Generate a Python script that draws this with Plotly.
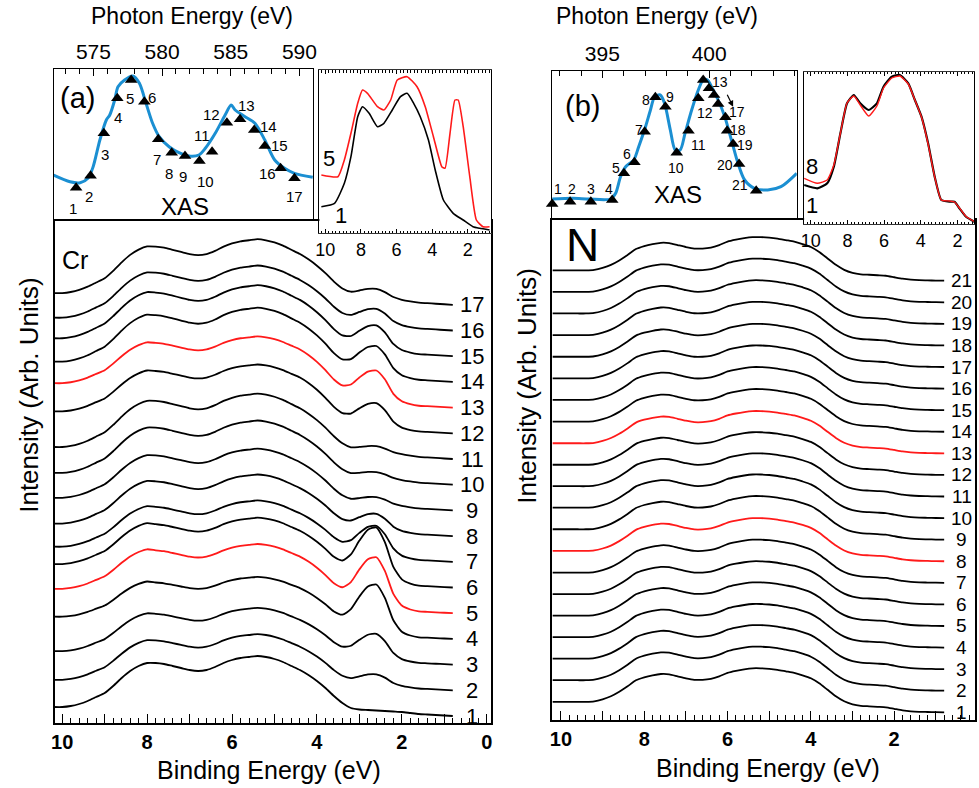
import numpy as np
import plotly.graph_objects as go

W, H = 979, 788
FONT = "Liberation Sans, Arial, Helvetica, sans-serif"

# ------------------------------------------------------------------ DATA
# binding-energy grid of the valence-band spectra (eV)
be_grid = [10.2, 10.0, 9.8, 9.6, 9.4, 9.2, 9.0, 8.8, 8.6, 8.4, 8.2, 8.0, 7.8, 7.6, 7.4, 7.2,
           7.0, 6.8, 6.6, 6.4, 6.2, 6.0, 5.8, 5.6, 5.4, 5.2, 5.0, 4.8, 4.6, 4.4, 4.2, 4.0,
           3.8, 3.6, 3.4, 3.2, 3.0, 2.8, 2.6, 2.4, 2.2, 2.0, 1.8, 1.6, 1.4, 1.2, 1.0, 0.8]

# Cr L-edge resonant spectra: valence band, Cr 3d resonance and background components
cr_vb_profile = [9, 9, 10, 12, 15, 19, 23, 30, 38, 45, 50, 53, 53, 52, 50, 48,
                 46, 45, 46, 49, 53, 56, 58, 59, 60, 59, 57, 54, 50, 46, 41, 35,
                 28, 20, 13, 8, 6.5, 6, 5.5, 5, 4.5, 4, 3, 2, 1.5, 1, 0.5, 0]
cr_3d_profile = [0.22, 0.22, 0.22, 0.22, 0.22, 0.22, 0.22, 0.22, 0.22, 0.22, 0.22, 0.22,
                 0.2, 0.2, 0.2, 0.2, 0.2, 0.2, 0.2, 0.2, 0.2, 0.2, 0.2, 0.2, 0.2, 0.2, 0.2,
                 0.2, 0.2, 0.2, 0.2, 0.2, 0.2, 0.2, 0.26, 0.46, 0.74, 0.95, 1.0, 0.74, 0.3,
                 0.08, 0.02, 0, 0, 0, 0, 0]
cr_bg_profile = [1, 1, 1, 1, 1, 1, 1, 1, 1, 1, 1, 1, 1, 1, 1, 1, 1, 1, 1, 1, 1, 1, 1, 1,
                 1, 1, 1, 1, 1, 1, 0.9, 0.75, 0.55, 0.35, 0.2, 0.1, 0.05, 0, 0, 0, 0, 0,
                 0, 0, 0, 0, 0, 0]
cr_labels = [str(i) for i in range(1, 18)]
cr_vb_scale = [1.00, 0.90, 0.86, 0.80, 0.90, 0.93, 0.92, 0.97, 0.97, 1.03, 1.05, 0.93,
               0.93, 1.07, 1.05, 1.03, 1.06]
cr_3d_amp = [0, 11, 26, 50, 51, 55, 31, 17, 8, 7, 7, 25, 32, 30, 25, 16, 10]
cr_bg_amp = [0, 0, 0, 4, 5, 3, 0, 0, 2, 1, 1, 8, 9, 4, 3, 0, 0]
cr_red = ["5", "13"]

# N K-edge resonant spectra
n_vb_profile = [10.5, 10.5, 10.5, 10.5, 10.5, 11, 13, 16, 20.5, 26, 32, 35, 37, 38.3, 38, 36,
                34, 32.5, 32.5, 33.5, 36, 39.5, 41.5, 43, 44, 44, 43.5, 42.5, 41, 39.5, 37, 34,
                29, 22.5, 16, 11, 8, 6.5, 6, 5.5, 5, 3.5, 2, 1, 0.5, 0.3, 0.1, 0]
n_labels = [str(i) for i in range(1, 22)]
n_vb_scale = [1.0, 1.0, 1.0, 0.99, 0.99, 0.98, 0.98, 0.98, 0.99, 0.99, 0.98, 0.97, 0.96,
              0.97, 0.98, 0.98, 0.98, 0.99, 0.99, 0.99, 0.99]
n_red = ["8", "13"]

# Cr L-edge XAS
cr_xas_energy = [572.10, 573.30, 574.03, 574.62, 574.98, 575.47, 575.94, 576.19, 576.55, 576.79,
                 577.27, 577.87, 578.35, 578.83, 579.31, 579.79, 580.51, 581.23, 581.95, 582.68,
                 583.15, 583.87, 584.59, 585.03, 585.32, 586.04, 586.76, 587.48, 588.20, 588.92,
                 589.64, 590.97]
cr_xas_intensity = [44, 37.3, 36.3, 41, 52.3, 79, 99, 104, 119, 132.3, 139, 143, 135.7, 115.7,
                    95.7, 82.3, 72.3, 66.3, 63, 64, 70.7, 85.7, 104, 114, 109, 102.3, 95.7, 79,
                    59, 50.7, 45.7, 41.7]
cr_mark_energy = [573.74, 574.79, 575.76, 576.74, 577.75, 578.71, 579.72, 580.70, 581.67,
                  582.72, 583.64, 584.72, 585.68, 586.71, 587.48, 588.63, 589.64]
cr_mark_intensity = [31.3, 43.3, 85.7, 120.7, 139, 117.3, 79.7, 66.3, 63, 58, 67.3, 96.3,
                     99.7, 89, 73, 50.7, 40.7]

# N K-edge XAS
n_xas_energy = [392.65, 393.61, 394.38, 395.39, 395.62, 395.85, 396.09, 396.47, 396.70, 397.02,
                397.25, 397.45, 397.71, 397.91, 398.18, 398.41, 398.64, 398.87, 399.18, 399.49,
                399.72, 399.92, 400.11, 400.42, 400.73, 401.04, 401.35, 401.66, 402.12, 402.74,
                403.36, 404.10]
n_xas_intensity = [19.3, 20, 19.3, 19.3, 25, 41.6, 51.6, 58.3, 71.6, 91.6, 108.3, 121.6, 123.3,
                   115, 88.3, 68.3, 68.3, 85, 108.3, 128.3, 138.3, 138.3, 131.6, 118.3, 101.6,
                   78.3, 55, 38.3, 30, 28.3, 31.6, 45]
n_mark_energy = [392.65, 393.49, 394.46, 395.46, 396.01, 396.50, 396.98, 397.48, 397.95, 398.48,
                 399.03, 399.49, 399.72, 399.99, 400.23, 400.42, 400.76, 400.84, 401.12, 401.40,
                 402.20]
n_mark_intensity = [14.3, 16.6, 16.6, 18.3, 45, 56, 86.6, 121, 111.6, 65.6, 87.6, 120, 138.3,
                    130, 123.3, 114.3, 101, 87.6, 74.3, 54.3, 27.6]
n_mark_text = ["1", "2", "3", "4", "5", "6", "7", "8", "9", "10", "11", "12", "13", "", "", "",
               "17", "18", "19", "20", "21"]

# off-resonance / on-resonance comparison insets
cr_inset_be_1 = [10.22, 9.48, 8.93, 8.56, 8.18, 7.91, 7.54, 7.07, 6.71, 6.24, 5.78, 5.41, 5.04,
                 4.67, 4.21, 3.83, 3.37, 2.82, 2.26, 1.71, 1.33, 0.78]
cr_inset_int_1 = [26.3, 29.7, 49.7, 76.3, 116.3, 126.3, 119.7, 106.3, 109.7, 123, 136.3, 139.7,
                  129.7, 116.3, 93, 63, 33, 19.7, 13, 6.3, 4.7, 3]
cr_inset_be_5 = [10.22, 9.29, 8.93, 8.56, 8.18, 7.91, 7.63, 7.07, 6.71, 6.33, 5.96, 5.41, 4.85,
                 4.39, 3.93, 3.46, 3.28, 3.00, 2.72, 2.54, 2.26, 1.89, 1.52, 1.15, 0.78]
cr_inset_int_5 = [58, 56.3, 73, 99.7, 129.7, 143, 139.7, 126.3, 123, 133, 153, 156.3, 146.3,
                  126.3, 96.3, 66.3, 64.7, 99.7, 133, 133, 106.3, 56.3, 13, 6.3, 6.3]
n_inset_be = [10.36, 9.64, 9.10, 8.74, 8.38, 8.02, 7.65, 7.30, 6.84, 6.39, 6.03, 5.58, 5.14,
              4.68, 4.32, 3.96, 3.60, 3.24, 2.88, 2.43, 2.16, 1.89, 1.53, 1.08]
n_inset_int_1 = [39, 35.7, 40.7, 57.3, 90.7, 120.7, 129, 120.7, 114, 120.7, 137.3, 147.3, 149,
                 140.7, 124, 107.3, 80.7, 47.3, 24, 22.3, 22.3, 15.7, 7.3, 2.3]
n_inset_int_8 = [45.7, 40.7, 44, 59, 91, 121, 128, 119, 108, 118, 136, 146, 148, 140, 124, 107,
                 80, 47, 24, 23, 22, 16, 7.5, 2.5]

# ------------------------------------------------------------------ STYLE / LAYOUT
CR_BASE, CR_STEP = 7.0, 25.7
N_BASE, N_STEP = 7.7, 21.58
BLUE = "#1b8fd2"
RED = "#ff1a1a"

# label offsets (px) of the XAS point numbers relative to their triangles
cr_lab_dx = [-2.7, -1.3, 1, 0.7, -1, 7.6, -1.7, -2.6, -1.7, 6, -10, -15, 6.7, 14, 14.4, -13.6, 0]
cr_lab_dy = [-20.6, -20.3, -21.7, -19, -19, 4, -20, -20.6, -20.7, -20.7, 16.7, 7.7, 13.3, 3.3, 0, -5, -18.4]
n_lab_dx = [5.6, 1.6, 0, -3.3, -8.3, -7.4, -6, -9.4, 4.3, -1, 10, 6.7, 16.7, 0, 0, 0, 12, 11, 11.7, -14.3, -16.6]
n_lab_dy = [14.7, 12.4, 12.4, 10.7, 5, 8.3, 1.7, -2.7, 10, -15.6, -14.3, -15, -1.7, 0, 0, 0, 4.8, 0.6, -0.6, -1, 5.7]


def px(xp):
    return xp / W


def py(yp):
    return 1 - yp / H


fig = go.Figure()

# ---- Cr main stack
vb = np.array(cr_vb_profile)
d3 = np.array(cr_3d_profile)
bgp = np.array(cr_bg_profile)
cr_ends = []
for i, lab in enumerate(cr_labels):
    off = CR_BASE + i * CR_STEP
    y = off + cr_vb_scale[i] * vb + cr_3d_amp[i] * d3 + cr_bg_amp[i] * bgp
    cr_ends.append(y[-1])
    fig.add_trace(go.Scatter(x=be_grid, y=y, mode="lines", xaxis="x", yaxis="y",
                             line=dict(color=RED if lab in cr_red else "black", width=1.8,
                                       shape="spline", smoothing=0.6),
                             showlegend=False, hoverinfo="skip"))

# ---- N main stack
nvb = np.array(n_vb_profile)
n_ends = []
for i, lab in enumerate(n_labels):
    off = N_BASE + i * N_STEP
    y = off + n_vb_scale[i] * nvb
    n_ends.append(y[-1])
    fig.add_trace(go.Scatter(x=be_grid, y=y, mode="lines", xaxis="x4", yaxis="y4",
                             line=dict(color=RED if lab in n_red else "black", width=1.8,
                                       shape="spline", smoothing=0.6),
                             showlegend=False, hoverinfo="skip"))

# ---- XAS insets
fig.add_trace(go.Scatter(x=cr_xas_energy, y=cr_xas_intensity, mode="lines", xaxis="x2", yaxis="y2",
                         line=dict(color=BLUE, width=3, shape="spline", smoothing=0.8),
                         showlegend=False, hoverinfo="skip"))
fig.add_trace(go.Scatter(x=cr_mark_energy, y=cr_mark_intensity, mode="markers", xaxis="x2", yaxis="y2",
                         marker=dict(symbol="triangle-up", size=11, color="black"),
                         cliponaxis=False, showlegend=False, hoverinfo="skip"))
fig.add_trace(go.Scatter(x=n_xas_energy, y=n_xas_intensity, mode="lines", xaxis="x5", yaxis="y5",
                         line=dict(color=BLUE, width=3, shape="spline", smoothing=0.8),
                         showlegend=False, hoverinfo="skip"))
fig.add_trace(go.Scatter(x=n_mark_energy, y=n_mark_intensity, mode="markers", xaxis="x5", yaxis="y5",
                         marker=dict(symbol="triangle-up", size=11, color="black"),
                         cliponaxis=False, showlegend=False, hoverinfo="skip"))

# ---- comparison insets
fig.add_trace(go.Scatter(x=cr_inset_be_1, y=cr_inset_int_1, mode="lines", xaxis="x3", yaxis="y3",
                         line=dict(color="black", width=1.6, shape="spline", smoothing=0.5),
                         showlegend=False, hoverinfo="skip"))
fig.add_trace(go.Scatter(x=cr_inset_be_5, y=cr_inset_int_5, mode="lines", xaxis="x3", yaxis="y3",
                         line=dict(color=RED, width=1.6, shape="spline", smoothing=0.5),
                         showlegend=False, hoverinfo="skip"))
fig.add_trace(go.Scatter(x=n_inset_be, y=n_inset_int_1, mode="lines", xaxis="x6", yaxis="y6",
                         line=dict(color="black", width=2.2, shape="spline", smoothing=0.5),
                         showlegend=False, hoverinfo="skip"))
fig.add_trace(go.Scatter(x=n_inset_be, y=n_inset_int_8, mode="lines", xaxis="x6", yaxis="y6",
                         line=dict(color=RED, width=1.4, shape="spline", smoothing=0.5),
                         showlegend=False, hoverinfo="skip"))

# ------------------------------------------------------------------ AXES
def main_x(domain, rng, anchor):
    return dict(domain=domain, range=rng, anchor=anchor, showline=True, linecolor="black",
                linewidth=1.6, mirror=True, ticks="inside", ticklen=9, tickwidth=1.3,
                tickcolor="black", tickmode="array", tickvals=[0, 1, 2, 3, 4, 5, 6, 7, 8, 9, 10],
                ticktext=["0", "", "2", "", "4", "", "6", "", "8", "", "10"],
                tickfont=dict(family=FONT, size=20, color="black", weight="bold"),
                minor=dict(tickmode="linear", tick0=0, dtick=0.2, ticks="inside", ticklen=5,
                           tickwidth=1, tickcolor="black"),
                showgrid=False, zeroline=False)


def plain_y(domain, rng, anchor, lw=1.6):
    return dict(domain=domain, range=rng, anchor=anchor, showline=True, linecolor="black",
                linewidth=lw, mirror=True, ticks="", showticklabels=False, showgrid=False,
                zeroline=False)


def xas_x(domain, rng, anchor, tick0):
    return dict(domain=domain, range=rng, anchor=anchor, side="top", showline=True,
                linecolor="black", linewidth=1.3, mirror=True, ticks="inside", ticklen=7,
                tickwidth=1, tickcolor="black", tick0=tick0, dtick=5,
                tickfont=dict(family=FONT, size=21, color="black"),
                minor=dict(tickmode="linear", tick0=tick0, dtick=1, ticks="inside", ticklen=5,
                           tickwidth=1, tickcolor="black"),
                showgrid=False, zeroline=False)


def inset_x(domain, rng, anchor):
    return dict(domain=domain, range=rng, anchor=anchor, showline=True, linecolor="#333333",
                linewidth=1, mirror="allticks", ticks="inside", ticklen=4, tickwidth=1,
                tickcolor="black", tickmode="array", tickvals=[2, 4, 6, 8, 10],
                tickfont=dict(family=FONT, size=18, color="black"),
                minor=dict(tickmode="linear", tick0=0, dtick=0.2, ticks="inside", ticklen=2.5,
                           tickwidth=1, tickcolor="black"),
                showgrid=False, zeroline=False)


layout = dict(
    width=W, height=H, margin=dict(l=0, r=0, t=0, b=0),
    paper_bgcolor="white", plot_bgcolor="white", showlegend=False,
    font=dict(family=FONT, color="black"),
    xaxis=main_x([px(51), px(491)], [10.18, -0.1], "y"),
    yaxis=plain_y([py(723), py(221)], [0, 502], "x"),
    xaxis2=xas_x([px(50), px(311.7)], [572.1, 591.0], "y2", 575),
    yaxis2=plain_y([py(219), py(69)], [0, 150], "x2", lw=1.3),
    xaxis3=inset_x([px(318), px(491)], [10.33, 0.7], "y3"),
    yaxis3=plain_y([py(233), py(70)], [0, 163], "x3", lw=1),
    xaxis4=main_x([px(552.7), 1.0], [10.21, 0.06], "y4"),
    yaxis4=plain_y([py(720), py(220)], [0, 500], "x4"),
    xaxis5=xas_x([px(552.7), px(799.3)], [392.65, 404.1], "y5", 395),
    yaxis5=plain_y([py(218.3), py(70.7)], [0, 147.6], "x5", lw=1.3),
    xaxis6=inset_x([px(806.7), px(978.3)], [10.36, 1.08], "y6"),
    yaxis6=plain_y([py(224), py(71.7)], [0, 152.3], "x6", lw=1),
)
fig.update_layout(**layout)

# ------------------------------------------------------------------ ANNOTATIONS
ann = []


def ptext(text, xp, yp, size, angle=0, **kw):
    ann.append(dict(text=text, x=px(xp), y=py(yp), xref="paper", yref="paper",
                    xanchor="center", yanchor="middle", showarrow=False, textangle=angle,
                    font=dict(family=FONT, size=size, color="black"), **kw))


# curve numbers
for lab, yv in zip(cr_labels, cr_ends):
    ann.append(dict(text=lab, x=0.34, y=yv, xref="x", yref="y", xanchor="center",
                    yanchor="middle", showarrow=False,
                    font=dict(family=FONT, size=22, color="black")))
for lab, yv in zip(n_labels, n_ends):
    ann.append(dict(text=lab, x=0.38, y=yv, xref="x4", yref="y4", xanchor="center",
                    yanchor="middle", showarrow=False,
                    font=dict(family=FONT, size=19, color="black")))

# XAS point numbers
for i, (e, v) in enumerate(zip(cr_mark_energy, cr_mark_intensity)):
    ann.append(dict(text=str(i + 1), x=e, y=v, xref="x2", yref="y2", xshift=cr_lab_dx[i],
                    yshift=cr_lab_dy[i], showarrow=False,
                    font=dict(family=FONT, size=15, color="black")))
for i, (e, v) in enumerate(zip(n_mark_energy, n_mark_intensity)):
    if n_mark_text[i]:
        ann.append(dict(text=n_mark_text[i], x=e, y=v, xref="x5", yref="y5", xshift=n_lab_dx[i],
                        yshift=n_lab_dy[i], showarrow=False,
                        font=dict(family=FONT, size=14, color="black")))
# arrow marking crowded points 13-16
ann.append(dict(text="", x=401.12, y=111.6, ax=400.81, ay=125, xref="x5", yref="y5",
                axref="x5", ayref="y5", showarrow=True, arrowhead=2, arrowsize=1,
                arrowwidth=1.2, arrowcolor="black"))

ptext("Photon Energy (eV)", 190, 16, 23)
ptext("Photon Energy (eV)", 658, 16, 23)
ptext("(a)", 74, 98, 29)
ptext("(b)", 583, 106, 29)
ptext("XAS", 182, 206, 24)
ptext("XAS", 680, 195, 24)
ptext("5", 328, 158, 22)
ptext("1", 340, 215, 22)
ptext("8", 815, 166, 22)
ptext("1", 815, 205, 22)
ptext("Cr", 72, 260, 25)
ptext("N", 583, 245, 46)
ptext("Intensity (Arb. Units)", 25, 395, 26, angle=-90)
ptext("Intensity (Arb. Units)", 527, 386, 26, angle=-90)
ptext("Binding Energy (eV)", 267, 770, 25)
ptext("Binding Energy (eV)", 770, 768, 25)

fig.update_layout(annotations=ann)
fig.write_html("out.html", config={"displayModeBar": False},
               post_script="document.body.style.margin='0px';document.body.style.padding='0px';")
